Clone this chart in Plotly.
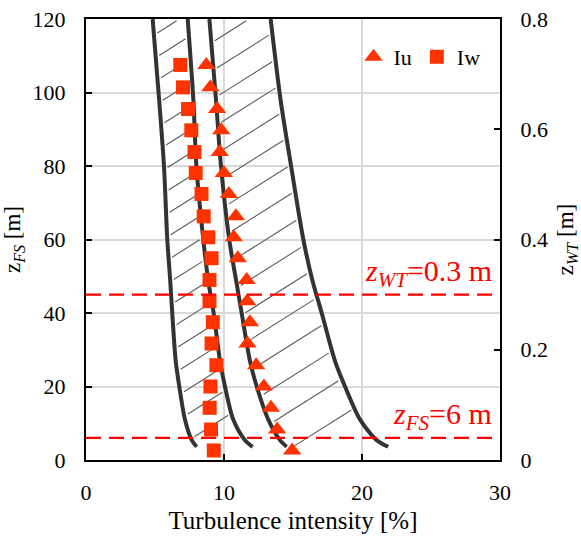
import numpy as np
import plotly.graph_objects as go

# ---------------- data ----------------
# measurement heights (full scale, m), bottom -> top
z_fs = [2.6, 8.3, 14.2, 20.0, 25.8, 31.7, 37.5, 43.2, 49.0, 54.9,
        60.6, 66.3, 72.4, 78.1, 83.8, 89.7, 95.5, 101.4, 107.5]
# longitudinal turbulence intensity Iu [%]
iu = [14.94, 13.85, 13.40, 12.89, 12.33, 11.70, 11.88, 11.68, 11.64, 11.00,
      10.71, 10.86, 10.35, 9.99, 9.69, 9.80, 9.50, 9.01, 8.72]
# vertical turbulence intensity Iw [%]
iw = [9.26, 9.06, 8.96, 9.02, 9.45, 9.10, 9.19, 8.95, 8.95, 9.10,
      8.86, 8.53, 8.37, 7.95, 7.86, 7.63, 7.39, 7.03, 6.83]

# target ranges (envelope curves)
curve_z = [120, 98, 80, 60, 49, 40, 27, 20, 11, 5.4, 3.6]
iw_low = [4.83, 5.30, 5.65, 5.89, 6.10, 6.25, 6.50, 6.76, 7.17, 7.66, 8.02]
iw_high = [7.37, 7.78, 8.00, 8.50, 8.85, 9.25, 9.71, 10.07, 10.67, 11.52, 12.08]
iu_low = [8.94, 9.42, 9.78, 10.38, 10.87, 11.28, 11.88, 12.37, 13.21, 14.06, 14.54]
iu_high = [13.38, 14.10, 14.86, 15.75, 16.40, 17.08, 18.04, 18.77, 19.86, 21.07, 21.90]

# reference heights
z_fs_ref = 6      # m, full scale
z_wt_ref = 0.3    # m, wind tunnel
scale = 150       # z_FS / z_WT

x_ticks = [0, 10, 20, 30]
y_ticks = [0, 20, 40, 60, 80, 100, 120]
y2_ticks = [0, 0.2, 0.4, 0.6, 0.8]
y2_labels = ["0", "0.2", "0.4", "0.6", "0.8"]

# ---------------- styling ----------------
RED = "#FF3300"
CURVE = "#333333"
HATCH = "#5A5A5A"
FONT = "Liberation Serif, Times New Roman, serif"
HATCH_SLOPE = 2.37  # dy/dx in data units for the hatch strokes


def hatch_segments(xl, xr, starts):
    """Hatch strokes between two envelope curves, derived from the curve arrays."""
    zs = np.array(curve_z[::-1], float)
    xl_s = np.array(xl[::-1], float)
    xr_s = np.array(xr[::-1], float)
    xs, ys = [], []
    t = np.linspace(0, 15, 6000)
    for y0 in starts:
        x0 = np.interp(y0, zs, xl_s)
        x = x0 + t
        y = y0 + HATCH_SLOPE * t
        diff = np.interp(y, zs, xr_s) - x
        idx = np.argmax(diff <= 0)
        t_end = t[idx]
        t0, t1 = 0.25, t_end - 0.25
        if t1 <= t0:
            continue
        xa, ya = x0 + t0, y0 + HATCH_SLOPE * t0
        xb, yb = x0 + t1, y0 + HATCH_SLOPE * t1
        if yb > 119.5:
            tb = (119.5 - y0) / HATCH_SLOPE
            xb, yb = x0 + tb, 119.5
        xs += [xa, xb, None]
        ys += [ya, yb, None]
    return xs, ys


fig = go.Figure()

# hatching
hx, hy = hatch_segments(iw_low, iw_high, np.arange(115.6, 3, -6.1))
fig.add_trace(go.Scatter(x=hx, y=hy, mode="lines", line=dict(color=HATCH, width=1.1),
                         hoverinfo="skip", showlegend=False))
hx, hy = hatch_segments(iu_low, iu_high, np.arange(113.5, 1, -7.4))
fig.add_trace(go.Scatter(x=hx, y=hy, mode="lines", line=dict(color=HATCH, width=1.1),
                         hoverinfo="skip", showlegend=False))

# envelope curves
for xs in (iw_low, iw_high, iu_low, iu_high):
    fig.add_trace(go.Scatter(x=xs, y=curve_z, mode="lines",
                             line=dict(color=CURVE, width=4, shape="spline", smoothing=0.8),
                             hoverinfo="skip", showlegend=False))

# measurements
fig.add_trace(go.Scatter(x=iu, y=z_fs, mode="markers", name="Iu",
                         marker=dict(symbol="triangle-up", size=16, color=RED)))
fig.add_trace(go.Scatter(x=iw, y=z_fs, mode="markers", name="Iw",
                         marker=dict(symbol="square", size=14, color=RED)))

# same measurement heights in wind-tunnel scale (secondary axis, invisible)
fig.add_trace(go.Scatter(x=iu, y=[z / scale for z in z_fs], yaxis="y2", mode="markers",
                         marker=dict(opacity=0, size=1), hoverinfo="skip", showlegend=False))

# reference lines
for zr in (z_wt_ref * scale, z_fs_ref):
    fig.add_shape(type="line", xref="paper", x0=0, x1=1, yref="y", y0=zr, y1=zr,
                  line=dict(color="#FF0000", width=2.2, dash="15px,8px"), layer="above")

fig.add_annotation(x=29.6, y=z_wt_ref * scale, xref="x", yref="y", xanchor="right", yanchor="bottom",
                   yshift=1, showarrow=False,
                   text="<i>z</i><sub><i>WT</i></sub>=0.3 m",
                   font=dict(family=FONT, size=30, color="#FF0000"))
fig.add_annotation(x=29.6, y=z_fs_ref, xref="x", yref="y", xanchor="right", yanchor="bottom",
                   yshift=1, showarrow=False,
                   text="<i>z</i><sub><i>FS</i></sub>=6 m",
                   font=dict(family=FONT, size=30, color="#FF0000"))

axis_common = dict(showline=True, linecolor="black", linewidth=2,
                   ticks="inside", ticklen=6, tickwidth=2, tickcolor="black",
                   zeroline=False, automargin=False,
                   tickfont=dict(family=FONT, size=22, color="black"))

fig.update_layout(
    width=581, height=539,
    margin=dict(l=86, r=81, t=19, b=79),
    plot_bgcolor="white", paper_bgcolor="white",
    font=dict(family=FONT, size=22, color="black"),
    xaxis=dict(range=[0, 30], tickvals=x_ticks, showgrid=True, gridcolor="#D9D9D9", gridwidth=1.5,
               mirror=True, ticklabelstandoff=12,
               title=dict(text="Turbulence intensity [%]", font=dict(family=FONT, size=25), standoff=7),
               **axis_common),
    yaxis=dict(range=[0, 120], tickvals=y_ticks, showgrid=True, gridcolor="#D9D9D9", gridwidth=1.5,
               mirror=True, ticklabelstandoff=14,
               title=dict(text="z<sub><i>FS</i></sub> [m]", font=dict(family=FONT, size=23), standoff=12),
               **axis_common),
    yaxis2=dict(range=[0, 0.8], tickvals=y2_ticks, ticktext=y2_labels, overlaying="y", side="right",
                showgrid=False, ticklabelstandoff=14,
                title=dict(text="z<sub><i>WT</i></sub> [m]", font=dict(family=FONT, size=23), standoff=10),
                **axis_common),
    legend=dict(orientation="h", x=0.965, xanchor="right", y=0.914, yanchor="middle",
                bgcolor="rgba(0,0,0,0)", font=dict(family=FONT, size=22),
                itemwidth=30, tracegroupgap=0),
    showlegend=True,
)

fig.write_html("out.html", config={"displayModeBar": False},
               post_script="document.body.style.margin='0px';")
